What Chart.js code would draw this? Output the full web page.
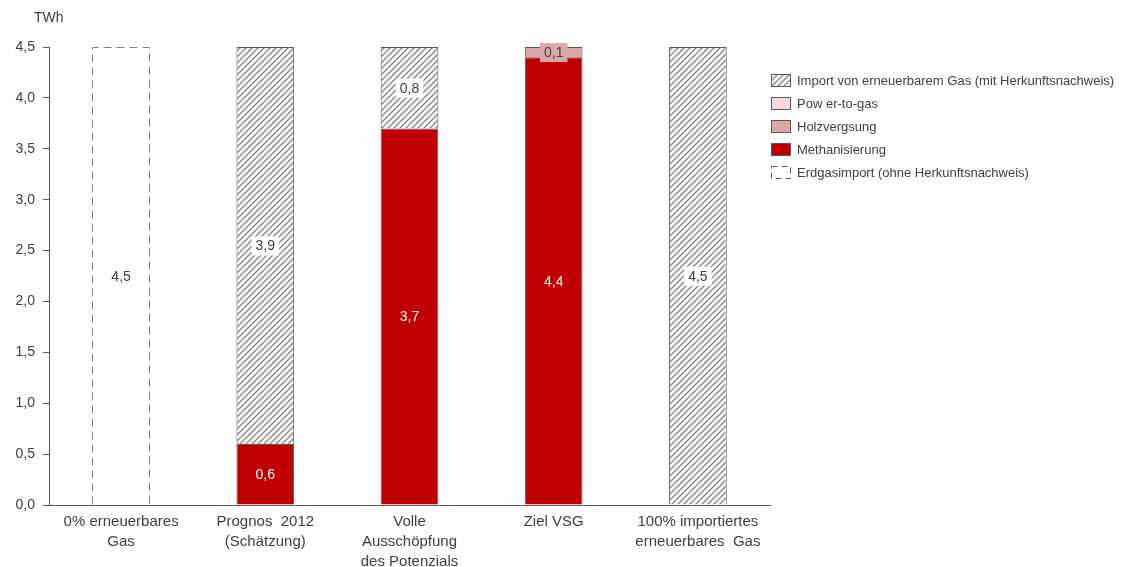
<!DOCTYPE html>
<html>
<head>
<meta charset="utf-8">
<script src="https://cdn.jsdelivr.net/npm/chart.js@4"></script>
<style>
  html, body { margin: 0; padding: 0; background: #fff; }
  #wrap { width: 1131px; height: 567px; }
</style>
</head>
<body>
<div id="wrap"><canvas id="grafico" width="1131" height="567"></canvas></div>
<script>
// Kategorien und Werte (TWh)
const kategorien = [
    ['0% erneuerbares', 'Gas'],
    ['Prognos  2012', '(Schätzung)'],
    ['Volle', 'Ausschöpfung', 'des Potenzials'],
    ['Ziel VSG'],
    ['100% importiertes', 'erneuerbares  Gas']
];
const erdgasimport = [4.5, null, null, null, null];
const methanisierung = [null, 0.6, 3.7, 4.4, null];
const holzvergasung = [null, null, null, 0.1, null];
const powerToGas = [null, null, null, null, null];
const importErneuerbar = [null, 3.9, 0.8, null, 4.5];
const yMin = 0, yMax = 4.5, yStep = 0.5;

const schrift = 'Liberation Sans, Arial, sans-serif';
const grau = '#404040';

// Schraffur für Import
function schraffur() {
    const n = 6;
    const c = document.createElement('canvas');
    c.width = n; c.height = n;
    const g = c.getContext('2d');
    g.fillStyle = '#fff';
    g.fillRect(0, 0, n, n);
    g.strokeStyle = '#8c8c8c';
    g.lineWidth = 1.5;
    g.beginPath();
    g.moveTo(-1, n + 1); g.lineTo(n + 1, -1);
    g.moveTo(-1, 1); g.lineTo(1, -1);
    g.moveTo(n - 1, n + 1); g.lineTo(n + 1, n - 1);
    g.stroke();
    return g.createPattern(c, 'repeat');
}
const muster = schraffur();

const komma = v => v.toFixed(1).replace('.', ',');

const datensaetze = [
    { label: 'Erdgasimport (ohne Herkunftsnachweis)', data: erdgasimport, backgroundColor: '#ffffff',
      borderWidth: 0, gestrichelt: true, labelFarbe: grau, labelHg: null },
    { label: 'Methanisierung', data: methanisierung, backgroundColor: '#C00000',
      borderColor: '#595959', borderWidth: 1, labelFarbe: '#ffffff', labelHg: null },
    { label: 'Holzvergsung', data: holzvergasung, backgroundColor: '#DBA8A8',
      borderColor: '#595959', borderWidth: 1, labelFarbe: grau, labelHg: '#DBA8A8' },
    { label: 'Pow er-to-gas', data: powerToGas, backgroundColor: '#FBD9D9',
      borderColor: '#595959', borderWidth: 1, labelFarbe: grau, labelHg: '#FBD9D9' },
    { label: 'Import von erneuerbarem Gas (mit Herkunftsnachweis)', data: importErneuerbar, backgroundColor: muster,
      borderColor: '#595959', borderWidth: 1, labelFarbe: grau, labelHg: '#ffffff' }
];

// Beschriftungen, gestrichelter Rahmen, Legende, Einheit
const extras = {
    id: 'extras',
    afterDatasetsDraw(chart) {
        const ctx = chart.ctx;
        ctx.save();
        chart.data.datasets.forEach((ds, i) => {
            const meta = chart.getDatasetMeta(i);
            meta.data.forEach((bar, j) => {
                const v = ds.data[j];
                if (v == null) return;
                const oben = Math.min(bar.y, bar.base), unten = Math.max(bar.y, bar.base);
                if (ds.gestrichelt) {
                    ctx.strokeStyle = '#7f7f7f';
                    ctx.lineWidth = 1;
                    ctx.setLineDash([8, 5]);
                    ctx.beginPath();
                    const l = Math.round(bar.x - bar.width / 2) + 0.5, r = Math.round(bar.x + bar.width / 2) - 0.5;
                    ctx.moveTo(l, unten); ctx.lineTo(l, Math.round(oben) + 0.5);
                    ctx.lineTo(r, Math.round(oben) + 0.5); ctx.lineTo(r, unten);
                    ctx.stroke();
                    ctx.setLineDash([]);
                }
                const txt = komma(v);
                ctx.font = '14px ' + schrift;
                const w = ctx.measureText(txt).width;
                const cy = (oben + unten) / 2;
                if (ds.labelHg) {
                    ctx.fillStyle = ds.labelHg;
                    ctx.fillRect(bar.x - w / 2 - 4, cy - 9, w + 8, 19);
                }
                ctx.fillStyle = ds.labelFarbe;
                ctx.textAlign = 'center';
                ctx.textBaseline = 'middle';
                ctx.fillText(txt, bar.x, cy + 1);
            });
        });

        // Einheit
        ctx.fillStyle = grau;
        ctx.font = '14px ' + schrift;
        ctx.textAlign = 'left';
        ctx.textBaseline = 'middle';
        ctx.fillText('TWh', 34, 18);

        // Legende
        const lx = 771, ly0 = 80, dy = 23;
        ctx.font = '13px ' + schrift;
        chart.data.datasets.slice().reverse().forEach((ds, k) => {
            const y = ly0 + k * dy;
            if (ds.gestrichelt) {
                ctx.strokeStyle = '#595959';
                ctx.lineWidth = 1;
                ctx.setLineDash([6, 4]);
                ctx.strokeRect(lx + 0.5, y - 5.5, 19, 12);
                ctx.setLineDash([]);
            } else {
                ctx.fillStyle = ds.backgroundColor;
                ctx.fillRect(lx, y - 6, 20, 13);
                ctx.strokeStyle = '#595959';
                ctx.lineWidth = 1;
                ctx.strokeRect(lx + 0.5, y - 5.5, 19, 12);
            }
            ctx.fillStyle = grau;
            ctx.textAlign = 'left';
            ctx.textBaseline = 'middle';
            ctx.fillText(ds.label, lx + 26, y + 1);
        });
        ctx.restore();
    }
};

new Chart(document.getElementById('grafico'), {
    type: 'bar',
    data: { labels: kategorien, datasets: datensaetze },
    options: {
        responsive: false,
        animation: false,
        events: [],
        layout: { padding: { top: 47, right: 361, left: 0, bottom: 0 } },
        datasets: { bar: { categoryPercentage: 1, barPercentage: 0.4, borderSkipped: 'start' } },
        plugins: { legend: { display: false }, tooltip: { enabled: false } },
        scales: {
            x: {
                stacked: true,
                grid: { display: false, drawTicks: false },
                border: { display: true, color: '#595959', width: 1 },
                ticks: { color: grau, font: { family: schrift, size: 15, lineHeight: '20px' }, padding: 7, maxRotation: 0, autoSkip: false },
                afterFit: s => { s.height = 62; }
            },
            y: {
                stacked: true,
                min: yMin, max: yMax,
                grid: { display: true, drawOnChartArea: false, drawTicks: true, tickLength: 6, color: '#595959' },
                border: { display: true, color: '#595959', width: 1 },
                ticks: { stepSize: yStep, color: grau, font: { family: schrift, size: 14 }, padding: 8, callback: v => komma(v) },
                afterFit: s => { s.width = 49; }
            }
        }
    },
    plugins: [extras]
});
</script>
</body>
</html>
